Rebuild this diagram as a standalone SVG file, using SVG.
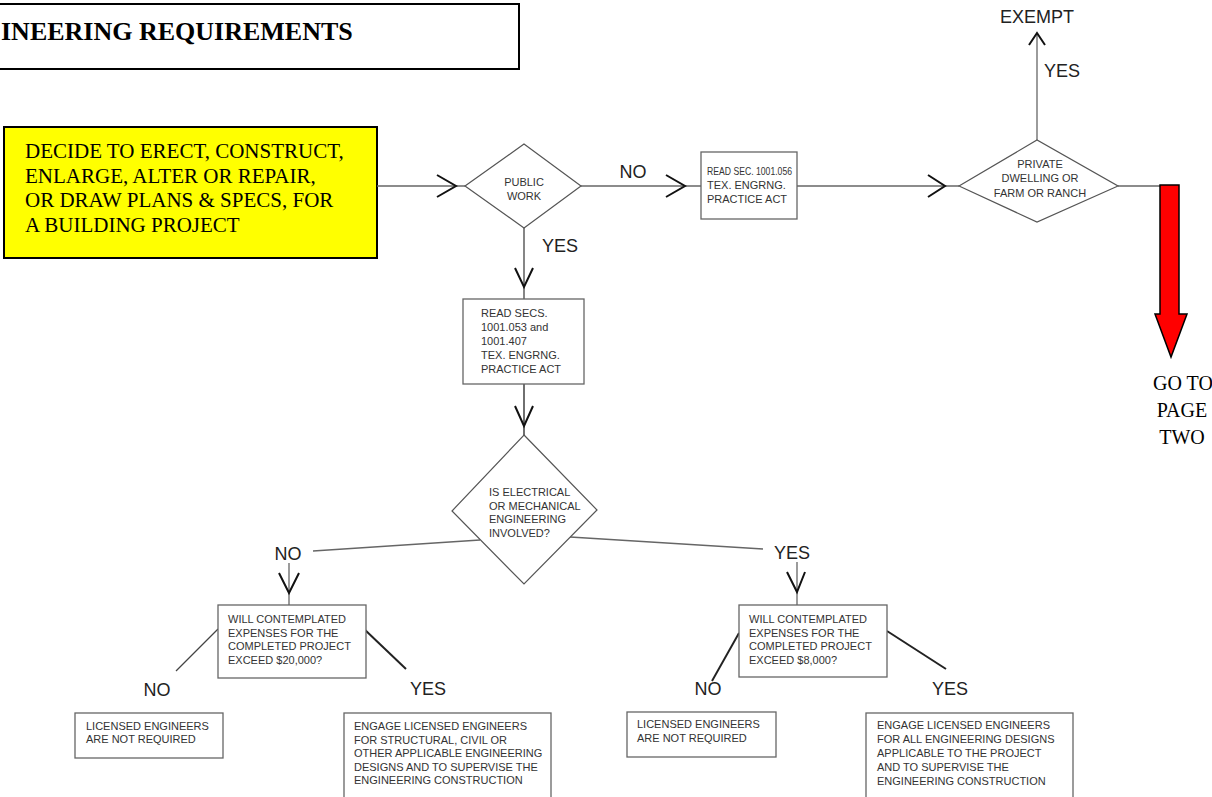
<svg xmlns="http://www.w3.org/2000/svg" width="1212" height="797" viewBox="0 0 1212 797">
<style>
.bg{fill:#fff}
.box{fill:#fff;stroke:#666;stroke-width:1.3}
.dia{fill:#fff;stroke:#555;stroke-width:1.2}
.t{font-family:"Liberation Sans",Arial,sans-serif;font-size:11px;fill:#333}
.lbl{font-family:"Liberation Sans",Arial,sans-serif;font-size:18px;fill:#222}
.ser{font-family:"Liberation Serif","Times New Roman",serif;fill:#000}
.ln{stroke:#666;stroke-width:1.3;fill:none}
.thick{stroke:#222;stroke-width:2;fill:none}
.chev{stroke:#111;stroke-width:2;fill:none;stroke-linejoin:miter}
</style>
<rect class="bg" x="0" y="0" width="1212" height="797"/>

<g id="title">
<rect x="-5" y="4" width="524" height="65" fill="#fff" stroke="#000" stroke-width="2"/>
<text class="ser" x="1" y="40" font-size="26" font-weight="bold">INEERING REQUIREMENTS</text>
</g>

<g id="start">
<rect x="4" y="127" width="373" height="131" fill="#ffff00" stroke="#000" stroke-width="2"/>
<text class="ser" font-size="21">
<tspan x="25" y="158">DECIDE TO ERECT, CONSTRUCT,</tspan>
<tspan x="25" y="182.5">ENLARGE, ALTER OR REPAIR,</tspan>
<tspan x="25" y="207">OR DRAW PLANS &amp; SPECS, FOR</tspan>
<tspan x="25" y="231.5">A BUILDING PROJECT</tspan>
</text>
</g>

<g id="connectors">
<line class="ln" x1="377" y1="186" x2="465" y2="186"/>
<polyline class="chev" points="437,175 456,186 437,197"/>
<line class="ln" x1="581" y1="186" x2="701" y2="186"/>
<polyline class="chev" points="666,175 685,186 666,197"/>
<line class="ln" x1="797" y1="186" x2="959" y2="186"/>
<polyline class="chev" points="928,175 945,186 928,197"/>
<line class="ln" x1="1118" y1="186" x2="1160" y2="186"/>
<line class="ln" x1="1037" y1="140" x2="1037" y2="33"/>
<polyline class="chev" points="1029,45 1037,33 1045,45"/>
<line class="ln" x1="524" y1="228" x2="524" y2="299" style="stroke:#444"/>
<polyline class="chev" points="515,268 524,287 533,268"/>
<line class="ln" x1="524" y1="384" x2="524" y2="435" style="stroke:#222"/>
<polyline class="chev" points="515,406 524,426 533,406"/>
<line class="ln" x1="480" y1="540" x2="313" y2="551"/>
<line class="ln" x1="289" y1="563" x2="289" y2="605"/>
<polyline class="chev" points="279,573 289,593 299,573"/>
<line class="ln" x1="570" y1="537" x2="763" y2="549"/>
<line class="ln" x1="797" y1="562" x2="797" y2="605"/>
<polyline class="chev" points="787,572 797,592 805,572"/>
<line class="ln" x1="218" y1="629" x2="176" y2="671" style="stroke:#444"/>
<line class="thick" x1="363" y1="628" x2="406" y2="669"/>
<line class="thick" x1="739" y1="633" x2="712" y2="681"/>
<line class="thick" x1="887" y1="631" x2="946" y2="669"/>
</g>

<g id="labels">
<text class="lbl" x="633" y="177.5" text-anchor="middle">NO</text>
<text class="lbl" x="560" y="251.5" text-anchor="middle">YES</text>
<text class="lbl" x="1037" y="23" text-anchor="middle">EXEMPT</text>
<text class="lbl" x="1062" y="76.5" text-anchor="middle">YES</text>
<text class="lbl" x="288" y="559.5" text-anchor="middle">NO</text>
<text class="lbl" x="792" y="558.5" text-anchor="middle">YES</text>
<text class="lbl" x="157" y="695.5" text-anchor="middle">NO</text>
<text class="lbl" x="428" y="694.5" text-anchor="middle">YES</text>
<text class="lbl" x="708" y="694.5" text-anchor="middle">NO</text>
<text class="lbl" x="950" y="694.5" text-anchor="middle">YES</text>
</g>

<g id="public-work">
<polygon class="dia" points="465,186 524,144 581,186 524,228"/>
<text class="t" text-anchor="middle"><tspan x="524" y="186">PUBLIC</tspan><tspan x="524" y="200">WORK</tspan></text>
</g>

<g id="read-1001-056">
<rect class="box" x="701" y="152" width="96" height="67"/>
<text class="t"><tspan x="707" y="175" textLength="85" lengthAdjust="spacingAndGlyphs">READ SEC. 1001.056</tspan><tspan x="707" y="189">TEX. ENGRNG.</tspan><tspan x="707" y="203">PRACTICE ACT</tspan></text>
</g>

<g id="private">
<polygon class="dia" points="959,186 1037,140 1118,186 1037,222"/>
<text class="t" text-anchor="middle"><tspan x="1040" y="168">PRIVATE</tspan><tspan x="1040" y="182">DWELLING OR</tspan><tspan x="1040" y="197">FARM OR RANCH</tspan></text>
</g>

<g id="page-two">
<polygon points="1160,185 1179,185 1179,314 1187,314 1171,357 1155,314 1160,314" fill="#ff0000" stroke="#000" stroke-width="1.5"/>
<text class="ser" font-size="20" text-anchor="middle"><tspan x="1183" y="390">GO TO</tspan><tspan x="1182" y="417">PAGE</tspan><tspan x="1182" y="444">TWO</tspan></text>
</g>

<g id="read-secs">
<rect class="box" x="463" y="299" width="121" height="85"/>
<text class="t"><tspan x="481" y="317">READ SECS.</tspan><tspan x="481" y="331">1001.053 and</tspan><tspan x="481" y="345">1001.407</tspan><tspan x="481" y="359">TEX. ENGRNG.</tspan><tspan x="481" y="373">PRACTICE ACT</tspan></text>
</g>

<g id="elec-mech">
<polygon class="dia" points="524,435 597,510 524,584 452,511"/>
<text class="t"><tspan x="489" y="496">IS ELECTRICAL</tspan><tspan x="489" y="510">OR MECHANICAL</tspan><tspan x="489" y="523">ENGINEERING</tspan><tspan x="489" y="537">INVOLVED?</tspan></text>
</g>

<g id="exceed-20000">
<rect class="box" x="218" y="605" width="148" height="73"/>
<text class="t"><tspan x="228" y="623">WILL CONTEMPLATED</tspan><tspan x="228" y="637">EXPENSES FOR THE</tspan><tspan x="228" y="650">COMPLETED PROJECT</tspan><tspan x="228" y="664">EXCEED $20,000?</tspan></text>
</g>

<g id="exceed-8000">
<rect class="box" x="739" y="605" width="148" height="72"/>
<text class="t"><tspan x="749" y="623">WILL CONTEMPLATED</tspan><tspan x="749" y="637">EXPENSES FOR THE</tspan><tspan x="749" y="650">COMPLETED PROJECT</tspan><tspan x="749" y="664">EXCEED $8,000?</tspan></text>
</g>

<g id="not-required-left">
<rect class="box" x="75" y="713" width="148" height="45"/>
<text class="t"><tspan x="86" y="730">LICENSED ENGINEERS</tspan><tspan x="86" y="743">ARE NOT REQUIRED</tspan></text>
</g>

<g id="engage-left">
<rect class="box" x="344" y="713" width="207" height="90"/>
<text class="t"><tspan x="354" y="730">ENGAGE LICENSED ENGINEERS</tspan><tspan x="354" y="744">FOR STRUCTURAL, CIVIL OR</tspan><tspan x="354" y="757">OTHER APPLICABLE ENGINEERING</tspan><tspan x="354" y="771">DESIGNS AND TO SUPERVISE THE</tspan><tspan x="354" y="784">ENGINEERING CONSTRUCTION</tspan></text>
</g>

<g id="not-required-right">
<rect class="box" x="627" y="712" width="149" height="45"/>
<text class="t"><tspan x="637" y="728">LICENSED ENGINEERS</tspan><tspan x="637" y="742">ARE NOT REQUIRED</tspan></text>
</g>

<g id="engage-right">
<rect class="box" x="866" y="713" width="207" height="90"/>
<text class="t"><tspan x="877" y="729">ENGAGE LICENSED ENGINEERS</tspan><tspan x="877" y="743">FOR ALL ENGINEERING DESIGNS</tspan><tspan x="877" y="757">APPLICABLE TO THE PROJECT</tspan><tspan x="877" y="771">AND TO SUPERVISE THE</tspan><tspan x="877" y="785">ENGINEERING CONSTRUCTION</tspan></text>
</g>
</svg>
